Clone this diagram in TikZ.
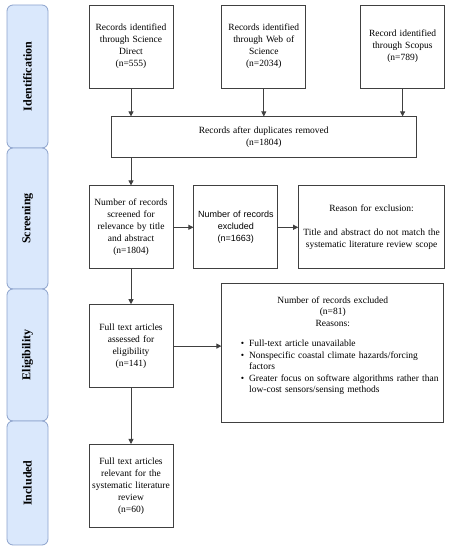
\documentclass[tikz,border=0pt]{standalone}
\usepackage{fontspec}
\setmainfont{Liberation Serif}
\setsansfont{Liberation Sans}
\usetikzlibrary{positioning,arrows.meta}
\definecolor{phasefill}{RGB}{218,232,252}
\definecolor{phaseline}{RGB}{140,162,204}

\begin{document}
\begin{tikzpicture}[x=1pt, y=1pt, >={Triangle[width=5pt,length=5pt]},
    box/.style={draw=black!75, line width=0.8pt, fill=white, minimum width=84pt, minimum height=83pt, text width=82pt, inner sep=1pt, align=center, font=\fontsize{9.5}{12}\selectfont},
    phase/.style={draw=phaseline, line width=0.8pt, fill=phasefill, rounded corners=6pt, rotate=90, minimum height=41pt, inner sep=0pt, font=\bfseries\fontsize{12}{14}\selectfont},
    link/.style={->, draw=black!75, line width=0.8pt}]
    \useasboundingbox (0,0) rectangle (449,550);
    \node[phase, minimum width=143pt] (ph1) at (27.5,473.5) {Identification};
    \node[phase, minimum width=141pt] (ph2) at (27.5,331.5) {Screening};
    \node[phase, minimum width=132pt] (ph3) at (27.5,195) {Eligibility};
    \node[phase, minimum width=124pt] (ph4) at (27.5,67) {Included};
    \node[box] (sd) at (131,503.5) {Records identified\\through Science\\Direct\\(n=555)};
    \node[box, right=48pt of sd] (wos) {Records identified\\through Web of\\Science\\(n=2034)};
    \node[box, right=54pt of wos] (scp) {Record identified\\through Scopus\\(n=789)};
    \node[box, below=28pt of wos, minimum width=305pt, minimum height=41pt, text width=300pt] (dup) {Records after duplicates removed\\(n=1804)};
    \node[box, below=97pt of sd] (scr) {Number of records\\screened for\\relevance by title\\and abstract\\(n=1804)};
    \node[box, right=20pt of scr, font=\sffamily\fontsize{9}{12}\selectfont] (exc) {Number of records\\excluded\\(n=1663)};
    \node[box, right=20pt of exc, minimum width=146pt, text width=142pt] (rsn) {Reason for exclusion:\\[12pt]Title and abstract do not match the\\systematic literature review scope};
    \node[box, below=35pt of scr] (ftx) {Full text articles\\assessed for\\eligibility\\(n=141)};
    \node[box, right=48pt of ftx, yshift=-7pt, minimum width=222pt, minimum height=139pt, text width=218pt, inner sep=2pt, font=\fontsize{9.5}{11.5}\selectfont] (ex81) {%
        \begin{minipage}[c][135pt][t]{218pt}
        \vspace*{11pt}\centering Number of records excluded\\(n=81)\\Reasons:\par\vspace{9pt}
        \raggedright\hspace*{17pt}\begin{tabular}[t]{@{}l@{\hspace{5pt}}p{190pt}@{}}
        \textbullet & Full-text article unavailable\\
        \textbullet & Nonspecific coastal climate hazards/forcing\newline factors\\
        \textbullet & Greater focus on software algorithms rather than\newline low-cost sensors/sensing methods
        \end{tabular}
        \end{minipage}};
    \node[box, below=56pt of ftx] (inc) {Full text articles\\relevant for the\\systematic literature\\review\\(n=60)};
    \draw[link] (sd) -- (sd |- dup.north);
    \draw[link] (wos) -- (wos |- dup.north);
    \draw[link] (scp) -- (scp |- dup.north);
    \draw[link] (dup.south -| scr) -- (scr);
    \draw[link] (scr) -- (exc);
    \draw[link] (exc) -- (rsn);
    \draw[link] (scr) -- (ftx);
    \draw[link] (ftx) -- (ftx -| ex81.west);
    \draw[link] (ftx) -- (inc);
\end{tikzpicture}
\end{document}
